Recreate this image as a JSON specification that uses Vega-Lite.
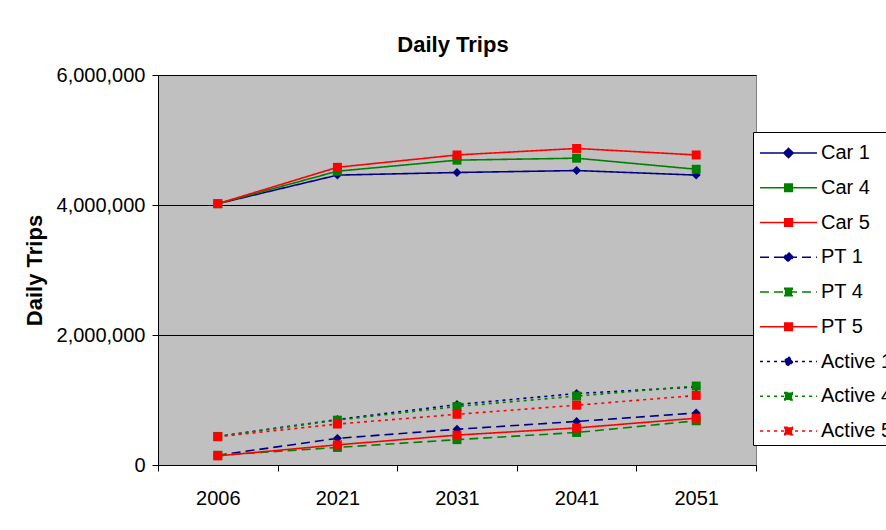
{
  "$schema": "https://vega.github.io/schema/vega-lite/v6.json",
  "width": 598,
  "height": 390,
  "autosize": {"type": "none"},
  "padding": {"left": 158, "top": 75, "right": 130, "bottom": 65},
  "background": "white",
  "config": {
    "view": {"fill": "#C0C0C0", "stroke": "#808080", "strokeWidth": 1},
    "font": "Liberation Sans"
  },
  "title": {
    "text": "Daily Trips",
    "font": "Liberation Sans",
    "fontSize": 22,
    "fontWeight": "bold",
    "color": "black",
    "anchor": "middle",
    "baseline": "alphabetic",
    "offset": -9,
    "dx": -4
  },
  "data": {
    "values": [
      {"year": "2006", "series": "Car 1", "value": 4020000},
      {"year": "2021", "series": "Car 1", "value": 4460000},
      {"year": "2031", "series": "Car 1", "value": 4500000},
      {"year": "2041", "series": "Car 1", "value": 4530000},
      {"year": "2051", "series": "Car 1", "value": 4460000},
      {"year": "2006", "series": "Car 4", "value": 4020000},
      {"year": "2021", "series": "Car 4", "value": 4520000},
      {"year": "2031", "series": "Car 4", "value": 4690000},
      {"year": "2041", "series": "Car 4", "value": 4720000},
      {"year": "2051", "series": "Car 4", "value": 4550000},
      {"year": "2006", "series": "Car 5", "value": 4020000},
      {"year": "2021", "series": "Car 5", "value": 4580000},
      {"year": "2031", "series": "Car 5", "value": 4770000},
      {"year": "2041", "series": "Car 5", "value": 4870000},
      {"year": "2051", "series": "Car 5", "value": 4770000},
      {"year": "2006", "series": "PT 1", "value": 150000},
      {"year": "2021", "series": "PT 1", "value": 410000},
      {"year": "2031", "series": "PT 1", "value": 550000},
      {"year": "2041", "series": "PT 1", "value": 670000},
      {"year": "2051", "series": "PT 1", "value": 800000},
      {"year": "2006", "series": "PT 4", "value": 150000},
      {"year": "2021", "series": "PT 4", "value": 270000},
      {"year": "2031", "series": "PT 4", "value": 390000},
      {"year": "2041", "series": "PT 4", "value": 500000},
      {"year": "2051", "series": "PT 4", "value": 680000},
      {"year": "2006", "series": "PT 5", "value": 140000},
      {"year": "2021", "series": "PT 5", "value": 310000},
      {"year": "2031", "series": "PT 5", "value": 460000},
      {"year": "2041", "series": "PT 5", "value": 570000},
      {"year": "2051", "series": "PT 5", "value": 720000},
      {"year": "2006", "series": "Active 1", "value": 440000},
      {"year": "2021", "series": "Active 1", "value": 700000},
      {"year": "2031", "series": "Active 1", "value": 930000},
      {"year": "2041", "series": "Active 1", "value": 1100000},
      {"year": "2051", "series": "Active 1", "value": 1200000},
      {"year": "2006", "series": "Active 4", "value": 440000},
      {"year": "2021", "series": "Active 4", "value": 690000},
      {"year": "2031", "series": "Active 4", "value": 900000},
      {"year": "2041", "series": "Active 4", "value": 1060000},
      {"year": "2051", "series": "Active 4", "value": 1215000},
      {"year": "2006", "series": "Active 5", "value": 435000},
      {"year": "2021", "series": "Active 5", "value": 630000},
      {"year": "2031", "series": "Active 5", "value": 780000},
      {"year": "2041", "series": "Active 5", "value": 920000},
      {"year": "2051", "series": "Active 5", "value": 1070000}
    ]
  },
  "encoding": {
    "x": {
      "field": "year",
      "type": "ordinal",
      "bandPosition": 0.5,
      "scale": {"type": "band", "paddingInner": 0, "paddingOuter": 0},
      "axis": {
        "title": null,
        "labelAngle": 0,
        "labelFont": "Liberation Sans",
        "labelFontSize": 20,
        "labelColor": "black",
        "labelPadding": 17,
        "tickBand": "extent",
        "tickSize": 6,
        "tickColor": "black",
        "domainColor": "black",
        "grid": false
      }
    },
    "y": {
      "field": "value",
      "type": "quantitative",
      "scale": {"domain": [0, 6000000], "nice": false},
      "axis": {
        "title": "Daily Trips",
        "titleFont": "Liberation Sans",
        "titleFontSize": 22,
        "titleFontWeight": "bold",
        "titleColor": "black",
        "titlePadding": 10,
        "values": [0, 2000000, 4000000, 6000000],
        "format": ",d",
        "labelFont": "Liberation Sans",
        "labelFontSize": 20,
        "labelColor": "black",
        "labelPadding": 7,
        "tickSize": 6,
        "tickColor": "black",
        "domainColor": "black",
        "grid": true,
        "gridColor": "black",
        "gridWidth": 1
      }
    }
  },
  "layer": [
    {
      "mark": {"type": "line", "strokeWidth": 1.6},
      "encoding": {
        "color": {
          "field": "series",
          "type": "nominal",
          "scale": {
            "domain": ["Car 1", "Car 4", "Car 5", "PT 1", "PT 4", "PT 5", "Active 1", "Active 4", "Active 5"],
            "range": ["#000080", "#008000", "#FF0000", "#000080", "#008000", "#FF0000", "#000080", "#008000", "#FF0000"]
          },
          "legend": {
            "orient": "none",
            "legendX": 595,
            "legendY": 57,
            "title": null,
            "labelFont": "Liberation Sans",
            "labelFontSize": 20,
            "labelColor": "black",
            "labelOffset": 15.5,
            "symbolOffset": 14.5,
            "fillColor": "white",
            "strokeColor": "black",
            "padding": 4,
            "symbolSize": 1024,
            "symbolStrokeWidth": 1.6,
            "rowPadding": 7.75,
            "encode": {
              "symbols": {
                "update": {
                  "shape": {"signal": "indexof(['Car 1','PT 1','Active 1'], datum.value) >= 0 ? 'M-1.78,0L1.78,0M0,-0.29L0.29,0L0,0.29L-0.29,0Z' : 'M-1.78,0L1.78,0M-0.23,-0.23L0.23,-0.23L0.23,0.23L-0.23,0.23Z'"},
                  "fill": {"signal": "scale('color', datum.value)"},
                  "fillOpacity": {"value": 1}
                }
              }
            }
          }
        },
        "strokeDash": {
          "field": "series",
          "type": "nominal",
          "scale": {
            "domain": ["Car 1", "Car 4", "Car 5", "PT 1", "PT 4", "PT 5", "Active 1", "Active 4", "Active 5"],
            "range": [[1, 0], [1, 0], [1, 0], [9, 5], [9, 5], [1, 0], [3, 4], [3, 4], [3, 4]]
          }
        }
      }
    },
    {
      "transform": [{"calculate": "datum.series", "as": "marker"}],
      "mark": {"type": "point", "filled": true, "opacity": 1, "size": 80, "strokeWidth": 0},
      "encoding": {
        "fill": {
          "field": "marker",
          "type": "nominal",
          "scale": {
            "domain": ["Active 1", "Active 4", "Active 5", "Car 1", "Car 4", "Car 5", "PT 1", "PT 4", "PT 5"],
            "range": ["#000080", "#008000", "#FF0000", "#000080", "#008000", "#FF0000", "#000080", "#008000", "#FF0000"]
          },
          "legend": null
        },
        "shape": {
          "field": "marker",
          "type": "nominal",
          "scale": {
            "domain": ["Active 1", "Active 4", "Active 5", "Car 1", "Car 4", "Car 5", "PT 1", "PT 4", "PT 5"],
            "range": ["diamond", "square", "square", "diamond", "square", "square", "diamond", "square", "square"]
          },
          "legend": null
        }
      }
    }
  ]
}
